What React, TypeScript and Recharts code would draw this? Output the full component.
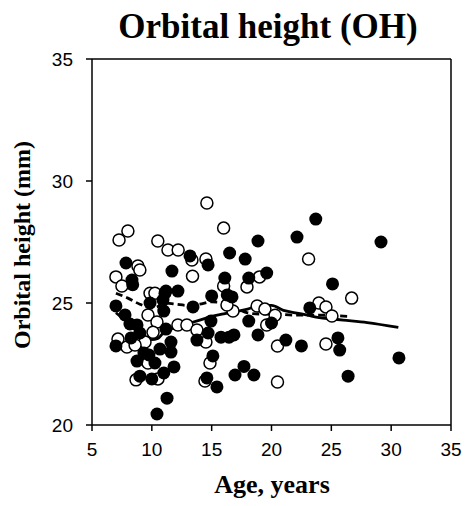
import React from "react";
import {
  ComposedChart,
  Scatter,
  Line,
  XAxis,
  YAxis,
  ReferenceLine,
} from "recharts";

// Filled markers: age (years) and orbital height (mm)
const filledAge = [
  7.84, 11.68, 13.19, 8.34, 8.4, 11.18, 12.18, 7.0, 7.76, 8.17, 8.76, 9.0, 8.26, 7.0,
  9.34, 9.76, 10.26, 8.76, 9.0, 10.0, 11.0, 11.85, 10.68, 11.6, 11.6, 11.18, 9.85,
  10.93, 11.1, 11.0, 13.44, 13.77, 11.27, 10.43, 23.7, 22.13, 18.87, 16.5, 17.8, 14.7,
  19.6, 18.1, 16.1, 25.1, 15.0, 16.3, 16.7, 14.94, 14.7, 15.78, 16.45, 16.86, 18.1,
  18.87, 20.0, 23.2, 21.2, 22.5, 25.55, 25.7, 15.1, 14.6, 15.44, 16.95, 17.7, 18.53,
  26.4, 29.15, 30.65,
];
const filledOH = [
  26.64, 26.31, 26.93, 25.94, 25.75, 25.49, 25.49, 24.88, 24.51, 24.14, 24.1, 23.77,
  23.57, 23.24, 22.95, 22.87, 22.54, 22.62, 22.0, 21.89, 22.13, 22.38, 23.11, 22.99,
  23.4, 23.93, 25.0, 25.12, 25.4, 24.67, 24.84, 23.48, 21.1, 20.45, 28.44, 27.7, 27.54,
  27.05, 26.8, 26.56, 26.23, 26.02, 26.02, 25.78, 25.29, 25.33, 25.25, 24.26, 23.77,
  23.6, 23.6, 23.69, 24.26, 23.69, 24.18, 24.8, 23.48, 23.24, 23.57, 23.07, 22.83,
  21.93, 21.56, 22.05, 22.4, 22.05, 22.0, 27.5, 22.75,
];

// Open markers: age (years) and orbital height (mm)
const openAge = [
  7.26, 8.0, 10.5, 11.35, 12.2, 13.35, 8.84, 9.0, 7.0, 7.5, 13.4, 9.85, 10.26, 9.68,
  10.43, 10.1, 7.17, 7.92, 9.43, 8.6, 8.68, 10.51, 12.18, 12.93, 9.68, 14.6, 16.0, 23.1,
  14.52, 19.0, 17.95, 16.0, 13.77, 14.52, 14.86, 14.44, 18.8, 19.45, 20.3, 19.6, 20.5,
  20.5, 23.96, 24.55, 25.05, 24.55, 16.78, 16.28, 26.7,
];
const openOH = [
  27.58, 27.95, 27.54, 27.17, 27.17, 26.76, 26.52, 26.35, 26.07, 25.7, 26.1, 25.4, 25.4,
  24.51, 24.22, 23.8, 23.52, 23.2, 23.4, 23.28, 21.85, 21.89, 24.1, 24.1, 22.54, 29.1,
  28.07, 26.8, 26.8, 26.07, 25.66, 25.7, 23.89, 23.4, 22.54, 21.8, 24.88, 24.75, 24.5,
  24.1, 23.24, 21.76, 25.0, 24.84, 24.47, 23.32, 24.67, 24.92, 25.2,
];

// Smoothed trends (solid: filled group, dashed: open group)
const solidTrendAge = [7, 8, 9, 10, 10.5, 11, 12, 13, 14, 15, 16, 17, 18, 19, 20, 21, 22, 23, 24, 25, 26, 28, 30.6];
const solidTrendOH = [24.6, 24.2, 23.8, 23.5, 23.55, 23.8, 24.0, 24.15, 24.3, 24.45, 24.55, 24.65, 24.75, 24.9, 24.9, 24.7, 24.6, 24.5, 24.4, 24.35, 24.3, 24.2, 24.0];
const dashedTrendAge = [7, 8, 9, 10, 10.5, 11, 12, 13, 14, 15, 16, 17, 18, 19, 20, 22, 24, 26.5];
const dashedTrendOH = [25.4, 25.2, 24.95, 24.8, 24.85, 25.0, 24.95, 24.9, 24.95, 25.05, 25.0, 24.8, 24.6, 24.55, 24.55, 24.5, 24.5, 24.45];

const xTicks = [5, 10, 15, 20, 25, 30, 35];
const yTicks = [20, 25, 30, 35];

const zip = (xs: number[], ys: number[]) => xs.map((x, i) => ({ x, y: ys[i] }));

const filledData = zip(filledAge, filledOH);
const openData = zip(openAge, openOH);
const solidData = zip(solidTrendAge, solidTrendOH);
const dashedData = zip(dashedTrendAge, dashedTrendOH);

const W = 466;
const H = 506;
const serif = "'Liberation Serif', 'Times New Roman', serif";
const sans = "'Liberation Sans', Arial, sans-serif";

const FilledDot = (p: any) => <circle cx={p.cx} cy={p.cy} r={6.5} fill="#000" />;
const OpenDot = (p: any) => (
  <circle cx={p.cx} cy={p.cy} r={6} fill="#fff" stroke="#000" strokeWidth={1.5} />
);

export default function App() {
  const tick = { fill: "#000", fontSize: 19, fontFamily: sans };
  return (
    <div style={{ position: "absolute", left: 0, top: 0, width: W, height: H, background: "#fff" }}>
      <ComposedChart
        width={W}
        height={H}
        margin={{ top: 59, right: 15, bottom: 51, left: 52 }}
      >
        <XAxis
          type="number"
          dataKey="x"
          domain={[5, 35]}
          ticks={xTicks}
          allowDataOverflow
          height={30}
          tick={tick}
          tickSize={6}
          tickMargin={12}
          axisLine={{ stroke: "#000", strokeWidth: 1.5 }}
          tickLine={{ stroke: "#000", strokeWidth: 1.5 }}
        />
        <YAxis
          type="number"
          dataKey="y"
          domain={[20, 35]}
          ticks={yTicks}
          allowDataOverflow
          width={40}
          tick={tick}
          tickSize={6}
          tickMargin={13}
          axisLine={{ stroke: "#000", strokeWidth: 1.5 }}
          tickLine={{ stroke: "#000", strokeWidth: 1.5 }}
        />
        <ReferenceLine y={35} stroke="#000" strokeWidth={1.5} />
        <ReferenceLine x={35} stroke="#000" strokeWidth={1.5} />
        <Scatter data={openData} shape={OpenDot} isAnimationActive={false} />
        <Scatter data={filledData} shape={FilledDot} isAnimationActive={false} />
        <Line
          data={solidData}
          dataKey="y"
          type="monotone"
          stroke="#000"
          strokeWidth={2.8}
          dot={false}
          activeDot={false}
          isAnimationActive={false}
        />
        <Line
          data={dashedData}
          dataKey="y"
          type="monotone"
          stroke="#000"
          strokeWidth={2.8}
          strokeDasharray="7 4"
          dot={false}
          activeDot={false}
          isAnimationActive={false}
        />
      </ComposedChart>
      <svg
        width={W}
        height={H}
        style={{ position: "absolute", left: 0, top: 0, pointerEvents: "none" }}
      >
        <text x={268} y={38} textAnchor="middle" fontFamily={serif} fontWeight="bold" fontSize={35} fill="#000">
          Orbital height (OH)
        </text>
        <text x={272} y={493} textAnchor="middle" fontFamily={serif} fontWeight="bold" fontSize={26} fill="#000">
          Age, years
        </text>
        <text
          x={0}
          y={0}
          transform="translate(30,245) rotate(-90)"
          textAnchor="middle"
          fontFamily={serif}
          fontWeight="bold"
          fontSize={24}
          fill="#000"
        >
          Orbital height (mm)
        </text>
      </svg>
    </div>
  );
}
